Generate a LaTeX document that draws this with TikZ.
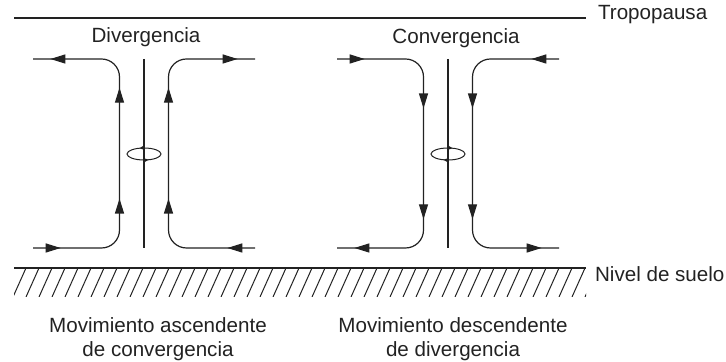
\documentclass[tikz,border=0pt]{standalone}
\usepackage{fontspec}
\setmainfont{Liberation Sans}
\usetikzlibrary{arrows.meta,decorations.markings}

\definecolor{ink}{HTML}{222222}

\tikzset{
  lbl/.style={font=\fontsize{10.3}{12.3}\selectfont, text=ink},
  level/.style={line width=0.6pt, draw=ink},
  hatch/.style={line width=0.5pt, draw=ink},
  axis/.style={line width=0.6pt, draw=ink},
  flow/.style={line width=0.6pt, draw=ink, rounded corners=9pt,
    postaction={decorate}, decoration={markings,
      mark=at position 0.08 with {\arrow{Triangle[length=7.5pt,width=4.5pt]}},
      mark=at position 0.37 with {\arrow{Triangle[length=7.5pt,width=4.5pt]}},
      mark=at position 0.69 with {\arrow{Triangle[length=7.5pt,width=4.5pt]}},
      mark=at position 0.95 with {\arrow{Triangle[length=7.5pt,width=4.5pt]}}}},
  swirl/.style={line width=0.5pt, draw=ink,
    postaction={decorate}, decoration={markings,
      mark=at position 0.31 with {\arrow{Triangle[length=2.5pt,width=2.2pt]}},
      mark=at position 0.81 with {\arrow{Triangle[length=2.5pt,width=2.2pt]}}}}
}

\begin{document}
\begin{tikzpicture}[x=0.5pt,y=0.5pt]
\useasboundingbox (0,0) rectangle (726,362);

% tropopausa y suelo
\draw[level] (14,344) -- (586,344);
\node[lbl,anchor=west] (trop) at (591,347) {Tropopausa};
\draw[level] (14,94) -- (586,94);
\node[lbl,anchor=west] (suelo) at (588,88) {Nivel de suelo};
\begin{scope}
  \clip (14,65) rectangle (586,94);
  \foreach \x in {0,13,...,600}
    \draw[hatch] (\x,65) -- ++(13,29);
\end{scope}

% divergencia en altura
\begin{scope}[shift={(144,0)}]
  \draw[axis] (0,303) -- (0,114);
  \foreach \s in {-1,1}
    \draw[flow,xscale=\s] (-111,114) -- (-24.5,114) -- (-24.5,303) -- (-111,303);
  \draw[swirl] (0,208) ellipse [x radius=17, y radius=6];
  \node[lbl] (div) at (2,325) {Divergencia};
  \node[lbl,align=center] (asc) at (14,23) {Movimiento ascendente\\de convergencia};
\end{scope}

% convergencia en altura
\begin{scope}[shift={(448,0)}]
  \draw[axis] (0,303) -- (0,114);
  \foreach \s in {-1,1}
    \draw[flow,xscale=\s] (-111,303) -- (-24.5,303) -- (-24.5,114) -- (-111,114);
  \draw[swirl,xscale=-1] (0,208) ellipse [x radius=17, y radius=6];
  \node[lbl] (conv) at (8,324) {Convergencia};
  \node[lbl,align=center] (desc) at (5,23) {Movimiento descendente\\de divergencia};
\end{scope}
\end{tikzpicture}
\end{document}
